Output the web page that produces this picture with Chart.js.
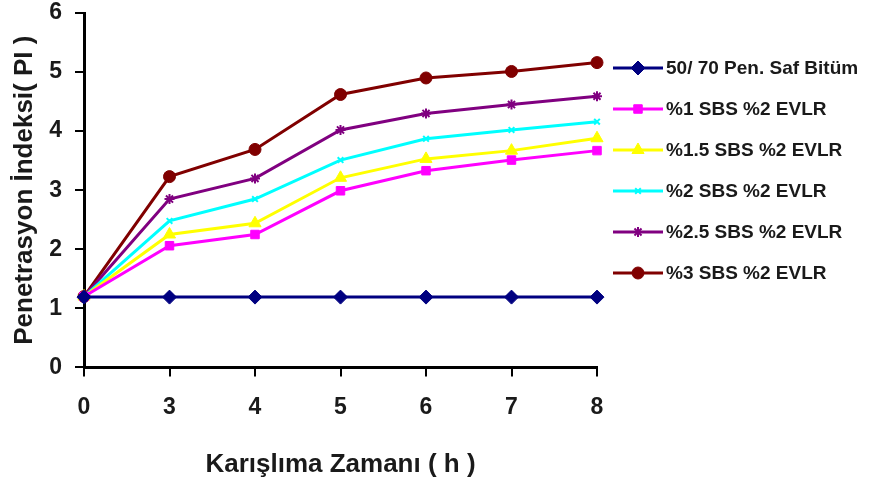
<!DOCTYPE html>
<html>
<head>
<meta charset="utf-8">
<script src="https://cdn.jsdelivr.net/npm/chart.js@4"></script>
<style>
  html, body { margin: 0; padding: 0; background: #fff; }
  #wrap { width: 869px; height: 479px; }
</style>
</head>
<body>
<div id="wrap"><canvas id="myChart" width="869" height="479"></canvas></div>
<script>
// mixing time (h) categories
const Hours = ["0", "3", "4", "5", "6", "7", "8"];

const Names = [
    "50/ 70 Pen. Saf Bitüm",
    "%1 SBS %2 EVLR",
    "%1.5 SBS %2 EVLR",
    "%2 SBS %2 EVLR",
    "%2.5 SBS %2 EVLR",
    "%3 SBS %2 EVLR"
];

const Pure = [1.19, 1.19, 1.19, 1.19, 1.19, 1.19, 1.19];
const SBS1 = [1.2, 2.06, 2.25, 2.99, 3.33, 3.51, 3.67];
const SBS15 = [1.2, 2.25, 2.44, 3.21, 3.53, 3.67, 3.88];
const SBS2 = [1.2, 2.48, 2.85, 3.51, 3.87, 4.02, 4.16];
const SBS25 = [1.2, 2.85, 3.2, 4.02, 4.3, 4.45, 4.59];
const SBS3 = [1.2, 3.23, 3.69, 4.62, 4.9, 5.01, 5.16];

const YTicks = [0, 1, 2, 3, 4, 5, 6];

const Colors = ["#000080", "#ff00ff", "#ffff00", "#00ffff", "#800080", "#800000"];
const Markers = ["rectRot", "rect", "triangle", "crossRot", "star", "circle"];
const MarkerSize = [7, 6, 7, 4, 5, 6];

const Series = [Pure, SBS1, SBS15, SBS2, SBS25, SBS3];

const datasets = Series.map((values, i) => ({
    label: Names[i],
    data: values,
    borderColor: Colors[i],
    backgroundColor: Colors[i],
    borderWidth: 3,
    pointStyle: Markers[i],
    pointRadius: MarkerSize[i],
    pointBorderWidth: i === 3 || i === 4 ? 2 : 1,
    tension: 0,
    fill: false
}));

const fontFamily = "'Liberation Sans', Arial, sans-serif";

// legend with line + marker, drawn to the right of the plot
const sideLegend = {
    id: "sideLegend",
    afterDraw(chart) {
        const ctx = chart.ctx;
        const x0 = chart.chartArea.right + 16;
        const top = 68;
        const step = 41;
        ctx.save();
        chart.data.datasets.forEach((ds, i) => {
            const y = top + i * step;
            ctx.strokeStyle = ds.borderColor;
            ctx.lineWidth = 3;
            ctx.beginPath();
            ctx.moveTo(x0, y);
            ctx.lineTo(x0 + 50, y);
            ctx.stroke();
            ctx.fillStyle = ds.backgroundColor;
            ctx.lineWidth = ds.pointBorderWidth;
            Chart.helpers.drawPoint(ctx, {
                pointStyle: ds.pointStyle,
                radius: ds.pointRadius,
                rotation: 0,
                borderWidth: ds.pointBorderWidth
            }, x0 + 25, y);
            ctx.fillStyle = "#1a1a1a";
            ctx.font = "bold 19px " + fontFamily;
            ctx.textAlign = "left";
            ctx.textBaseline = "middle";
            ctx.fillText(ds.label, x0 + 53, y + 1);
        });
        ctx.restore();
    }
};

const ctx = document.getElementById("myChart").getContext("2d");

const config = {
    type: "line",
    data: {
        labels: Hours,
        datasets: datasets
    },
    options: {
        responsive: false,
        animation: false,
        layout: {
            padding: { left: 0, right: 272, top: 13, bottom: 0 }
        },
        plugins: {
            legend: { display: false },
            tooltip: { enabled: false }
        },
        scales: {
            x: {
                offset: false,
                grid: {
                    display: true,
                    drawOnChartArea: false,
                    drawTicks: true,
                    tickLength: 9,
                    color: "#000",
                    lineWidth: 2
                },
                border: { display: true, color: "#000", width: 3 },
                ticks: {
                    color: "#1a1a1a",
                    padding: 17,
                    font: { family: fontFamily, size: 23, weight: "bold" }
                },
                title: {
                    display: true,
                    text: "Karışlıma Zamanı ( h )",
                    color: "#1a1a1a",
                    padding: { top: 14, bottom: 1 },
                    font: { family: fontFamily, size: 26, weight: "bold", lineHeight: 1 }
                }
            },
            y: {
                min: YTicks[0],
                max: YTicks[YTicks.length - 1],
                afterFit: (axis) => {
                    axis.paddingTop = 0;
                    axis.paddingBottom = 0;
                    axis.width = 84;
                },
                grid: {
                    display: true,
                    drawOnChartArea: false,
                    drawTicks: true,
                    tickLength: 9,
                    color: "#000",
                    lineWidth: 2
                },
                border: { display: true, color: "#000", width: 3 },
                ticks: {
                    color: "#1a1a1a",
                    padding: 13,
                    stepSize: YTicks[1] - YTicks[0],
                    font: { family: fontFamily, size: 23, weight: "bold" }
                },
                title: {
                    display: true,
                    text: "Penetrasyon İndeksi( PI )",
                    color: "#1a1a1a",
                    padding: { top: 9, bottom: 10 },
                    font: { family: fontFamily, size: 26, weight: "bold", lineHeight: 1.2 }
                }
            }
        }
    },
    plugins: [sideLegend]
};

const myChart = new Chart(ctx, config);
</script>
</body>
</html>
